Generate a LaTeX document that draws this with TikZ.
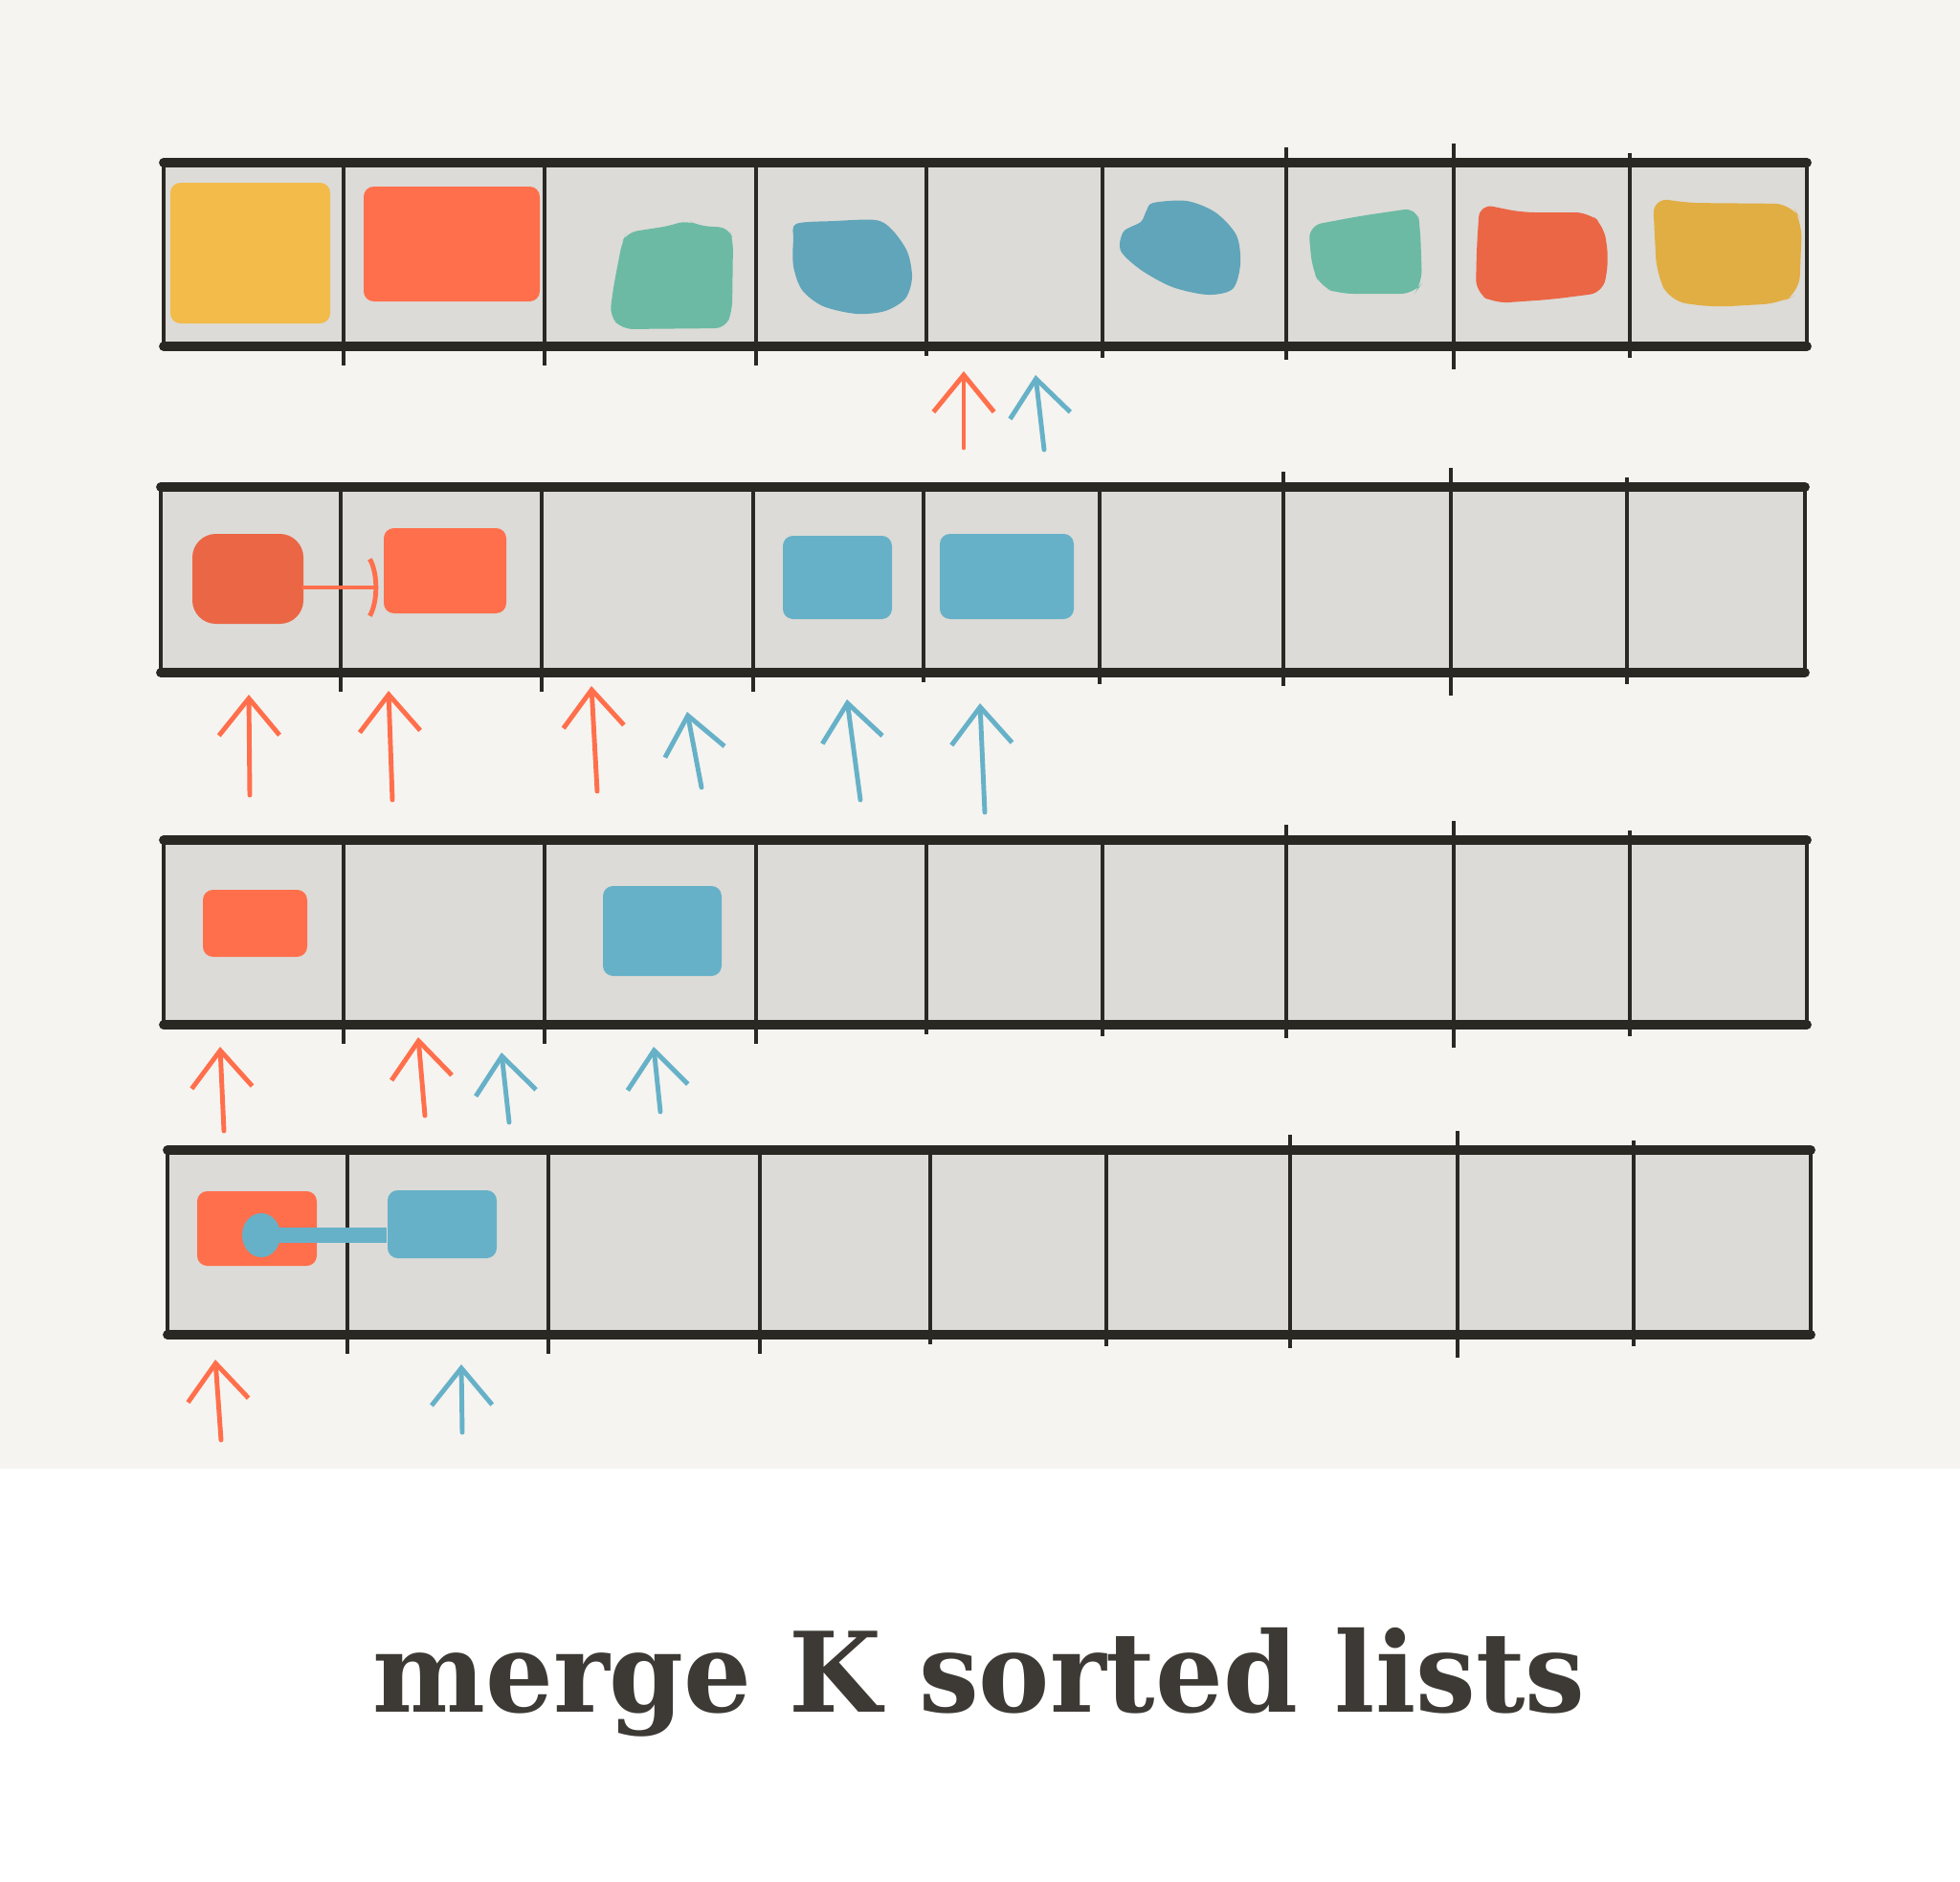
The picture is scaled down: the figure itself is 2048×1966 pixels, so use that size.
\documentclass[tikz,border=0pt]{standalone}
\usepackage{fontspec}
\newfontfamily\titlefont{DejaVu Serif}
\usetikzlibrary{arrows.meta,fit,positioning,shapes.geometric}
\definecolor{paper}{HTML}{F5F4F0}
\definecolor{cellgray}{HTML}{DCDBD7}
\definecolor{ink}{HTML}{2A2823}
\definecolor{titleink}{HTML}{3D3A35}
\definecolor{orng}{HTML}{FF6F4C}
\definecolor{redd}{HTML}{EB6645}
\definecolor{yell}{HTML}{F2BB4A}
\definecolor{mustard}{HTML}{E1AE44}
\definecolor{teal}{HTML}{6CBAA4}
\definecolor{blu}{HTML}{60A5BA}
\definecolor{lblu}{HTML}{67B1C8}
\tikzset{
  rim/.style={draw=ink,line width=2.8pt,line cap=round},
  wall/.style={draw=ink,line width=1.4pt},
  item/.style={fill=#1,draw=none,inner sep=0pt,rounded corners=3pt},
  ptr/.style={draw=#1,line width=1.4pt,line cap=round,
    -{Straight Barb[length=11pt,width=18pt,line width=1.4pt]}},
}
\begin{document}
\begin{tikzpicture}[x=0.01cm,y=-0.01cm]
  \useasboundingbox (0,0) rectangle (2048,1966);
  \fill[white] (0,0) rectangle (2048,1966);
  \fill[paper] (0,0) rectangle (2048,1535);

  % the four lists
  \foreach \r/\lx/\rx/\ty/\by in {1/171/1888/170/362,2/168/1886/509/703,3/171/1888/878/1071,4/175/1892/1202/1395}{
    \fill[cellgray] (\lx,\ty) rectangle (\rx,\by);
    \draw[wall] (\lx,\ty) rectangle (\rx,\by);
    \draw[rim] (\lx,\ty) -- (\rx,\ty);
    \draw[rim] (\lx,\by) -- (\rx,\by);
    \foreach \dx/\up/\dn in {359/0/20,569/0/20,790/0/20,968/0/10,1152/0/12,1344/16/14,1519/20/24,1703/10/12}
      \draw[wall] ({\dx+\lx-171},{\ty-\up}) -- ({\dx+\lx-171},{\by+\dn});
  }

  % list 1
  \node[item=yell,fit={(178,191) (345,338)}] (y1a) {};
  \node[item=orng,fit={(380,195) (564,315)}] (o1a) {};
  \fill[teal,rounded corners=3pt] (655,243) -- (700,236) -- (718,230) -- (730,236) -- (762,238)
    -- (766,252) -- (765,325) -- (758,343) -- (650,344) -- (637,330) -- (641,300) -- (650,253) -- cycle;
  \fill[blu] plot[smooth cycle] coordinates {(832,234) (872,231) (915,230) (932,240) (948,263) (953,290)
    (946,312) (925,325) (895,328) (860,320) (838,303) (829,278) (829,250)};
  \fill[blu] plot[smooth cycle] coordinates {(1205,212) (1240,210) (1270,222) (1292,246) (1296,276)
    (1288,302) (1262,308) (1225,300) (1192,282) (1171,262) (1174,242) (1192,232) (1198,220)};
  \fill[teal,rounded corners=4pt] (1367,236) -- (1420,226) -- (1481,217) -- (1484,240) -- (1486,296)
    -- (1478,307) -- (1400,307) -- (1380,300) -- (1371,280) -- cycle;
  \fill[redd,rounded corners=4pt] (1546,213) -- (1590,222) -- (1660,222) -- (1676,236) -- (1681,272)
    -- (1675,306) -- (1620,313) -- (1562,317) -- (1542,306) -- (1543,260) -- cycle;
  \fill[mustard,rounded corners=5pt] (1727,206) -- (1760,212) -- (1872,213) -- (1883,232) -- (1880,306)
    -- (1860,317) -- (1790,321) -- (1745,315) -- (1731,286) -- cycle;

  % list 2
  \node[item=redd,rounded corners=7pt,fit={(201,558) (317,652)}] (r2a) {};
  \node[item=orng,fit={(401,552) (529,641)}] (o2a) {};
  \node[item=lblu,fit={(818,560) (932,647)}] (b2a) {};
  \node[item=lblu,fit={(982,558) (1122,647)}] (b2b) {};
  \draw[orng,line width=1.4pt,line cap=round,-{Arc Barb[arc=110,length=5pt,width=22pt,line width=1.4pt]}]
    (r2a.east |- 0,614) -- ([xshift=-0.05cm]o2a.west |- 0,614);

  % list 3
  \node[item=orng,fit={(212,930) (321,1000)}] (o3a) {};
  \node[item=lblu,fit={(630,926) (754,1020)}] (b3a) {};

  % list 4
  \node[item=orng,fit={(206,1245) (331,1323)}] (o4a) {};
  \node[item=lblu,fit={(405,1244) (519,1315)}] (b4a) {};
  \node[fill=lblu,ellipse,inner sep=0pt,minimum width=0.4cm,minimum height=0.46cm] (d4) at (273,1291) {};
  \draw[lblu,line width=4.5pt] (d4.center) -- (b4a.west |- d4.center);

  % pointers
  \foreach \n/\c/\a/\b/\cc/\d in {
      1/orng/1007/468/1007/388, 2/lblu/1091/470/1082/392,
      3/orng/261/831/260/726, 4/orng/410/836/406/722, 5/orng/624/827/618/717,
      6/lblu/733/823/718/744, 7/lblu/899/836/885/731, 8/lblu/1029/849/1024/735,
      9/orng/234/1182/230/1094, 10/orng/444/1166/437/1084,
      11/lblu/532/1173/524/1100, 12/lblu/690/1162/683/1094,
      13/orng/231/1505/225/1421, 14/lblu/483/1497/482/1426}{
    \coordinate (p\n-s) at (\a,\b);
    \coordinate (p\n-e) at (\cc,\d);
    \draw[ptr=\c] (p\n-s) -- (p\n-e);
  }

  \node[anchor=base,text=titleink,xscale=0.96,font=\titlefont\bfseries\fontsize{33}{40}\selectfont] (title)
    at (1023,1789) {merge K sorted lists};
\end{tikzpicture}
\end{document}
